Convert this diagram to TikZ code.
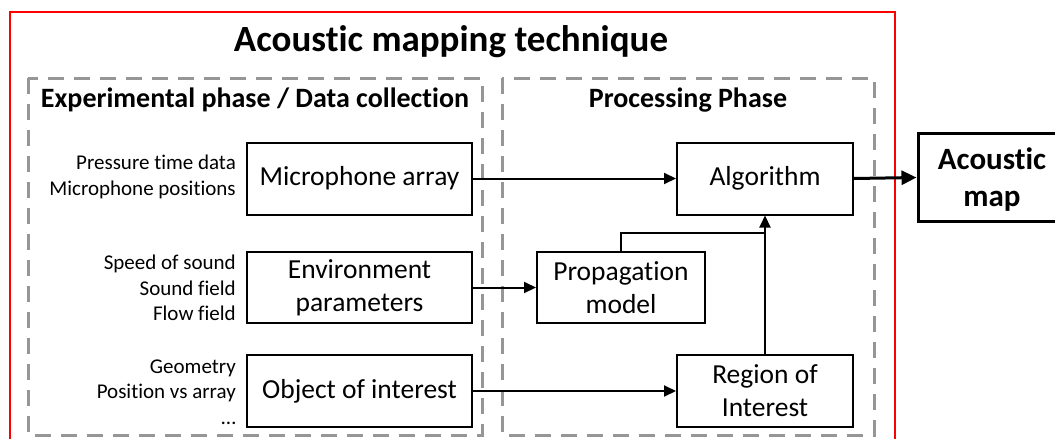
\documentclass[tikz,border=0pt]{standalone}
\usepackage{fontspec}
\setmainfont{Carlito}[Ligatures={NoCommon}]
\usetikzlibrary{arrows.meta}
\definecolor{frame}{RGB}{255,0,0}
\definecolor{phase}{RGB}{150,150,150}
\tikzset{
  block/.style={draw=black, line width=2pt, fill=white, inner sep=0pt, align=center,
    font=\fontsize{27.5}{33}\selectfont},
  sidenote/.style={anchor=east, align=right, inner sep=0pt,
    font=\fontsize{21}{25.5}\selectfont},
  phasebox/.style={draw=phase, line width=3pt, dash pattern=on 16pt off 10pt},
  phasetitle/.style={anchor=base, inner sep=0pt, font=\bfseries\fontsize{28}{33}\selectfont},
  flow/.style={line width=2pt, -{Triangle[length=12pt,width=11pt]}},
  link/.style={line width=2pt},
  bigflow/.style={line width=3pt, -{Triangle[length=15pt,width=14pt]}}
}
\begin{document}
\begin{tikzpicture}[x=1pt,y=-1pt]
\useasboundingbox (0,0) rectangle (1055,439);

% outer frame
\draw[frame, line width=2.5pt] (10,12) rectangle (895,460);
\node[anchor=base, inner sep=0pt, font=\bfseries\fontsize{37}{44}\selectfont]
  (title) at (451,51) {Acoustic mapping technique};

% the two phases
\draw[phasebox] (28,78) rectangle (482,435);
\draw[phasebox] (502,78) rectangle (874,435);
\node[phasetitle] (exptitle) at (255,107) {Experimental phase / Data collection};
\node[phasetitle] (proctitle) at (688,107) {Processing Phase};

% experimental blocks
\node[block, minimum width=225pt, minimum height=72pt] (mic) at (359.5,178.5) {Microphone array};
\node[block, minimum width=225pt, minimum height=71pt] (env) at (359.5,287.5) {Environment\\parameters};
\node[block, minimum width=225pt, minimum height=72pt] (obj) at (359.5,391) {Object of interest};

\node[sidenote] (micnote) at (236,177) {Pressure time data\\Microphone positions};
\node[sidenote] (envnote) at (236,288) {Speed of sound\\Sound field\\Flow field};
\node[sidenote] (objnote) at (236,392) {Geometry\\Position vs array\\\dots};

% processing blocks
\node[block, minimum width=176pt, minimum height=72pt] (alg) at (765,178.5) {Algorithm};
\node[block, minimum width=168pt, minimum height=71pt] (prop) at (621,287.5) {Propagation\\model};
\node[block, minimum width=176pt, minimum height=72pt] (roi) at (765,391) {Region of\\Interest};

% result
\node[block, line width=3pt, minimum width=152pt, minimum height=88pt] (map) at (994,177.5) {};
\node[align=center, inner sep=0pt, font=\bfseries\fontsize{31}{37}\selectfont]
  (maptext) at (992,180) {Acoustic\\map};

% connectors
\draw[flow] (mic.east) -- (alg.west);
\draw[flow] (env.east) -- (prop.west);
\draw[flow] (obj.east) -- (roi.west);
\draw[flow] (roi.north) -- (alg.south);
\coordinate (join) at (765,233);
\draw[link] (prop.north) |- (join);
\draw[bigflow] (alg.east) -- (map.west);
\end{tikzpicture}
\end{document}
